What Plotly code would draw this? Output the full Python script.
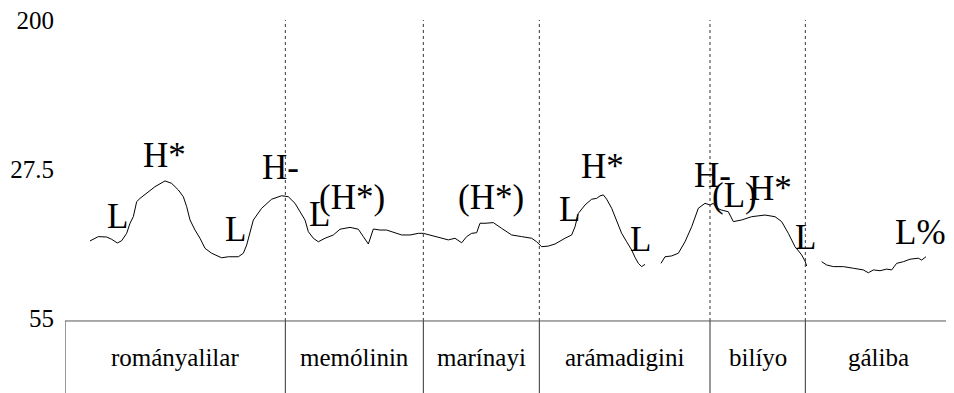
import plotly.graph_objects as go

# F0 contour (time in s, F0 in Hz); None marks unvoiced gaps
time_s = [0.075, 0.100, 0.125, 0.140, 0.157, 0.170, 0.185, 0.195, 0.205, 0.215, 0.225, 0.245, 0.270, 0.300,
          0.320, 0.340, 0.355, 0.365, 0.375, 0.390, 0.405, 0.420, 0.440, 0.470, 0.490, 0.520, 0.535, 0.545,
          0.555, 0.565, 0.590, 0.620, 0.650, 0.670, 0.690, 0.705, 0.720, 0.730, 0.745, 0.760, 0.780, 0.805,
          0.825, 0.855, 0.880, 0.895, 0.910, 0.925, 0.945, 0.965, 0.990, 1.010, 1.035, 1.060, 1.075, 1.100,
          1.130, 1.150, 1.170, 1.190, 1.205, 1.220, 1.235, 1.245, 1.260, 1.285, 1.310, 1.340, 1.370, 1.400,
          1.415, 1.430, 1.450, 1.470, 1.500, 1.520, 1.530, 1.540, 1.560, 1.580, 1.595, 1.605, 1.615, 1.625,
          1.640, 1.655, 1.670, 1.685, 1.700, 1.710, 1.720, 1.730, 1.740, 1.764,
          1.788, 1.800, 1.820, 1.840, 1.860, 1.880, 1.900, 1.920, 1.935, 1.945, 1.955, 1.970, 1.990, 2.005,
          2.030, 2.060, 2.100, 2.130, 2.150, 2.170, 2.190, 2.210, 2.220, 2.225, 2.248,
          2.270, 2.285, 2.305, 2.335, 2.365, 2.395, 2.410, 2.425, 2.445, 2.465, 2.480, 2.495, 2.515, 2.535,
          2.560, 2.570, 2.583]
f0_hz = [92.5, 94.6, 94.4, 93.3, 91.5, 92.6, 96.2, 101.1, 104.3, 111.6, 113.2, 115.7, 118.9, 121.7,
         120.5, 117.3, 114.0, 109.2, 102.7, 97.8, 93.8, 88.9, 86.5, 84.3, 84.8, 84.8, 86.5, 90.5,
         97.0, 102.7, 108.4, 112.8, 114.5, 114.0, 110.8, 106.7, 102.7, 97.0, 93.8, 92.1, 93.8, 95.4,
         98.2, 99.1, 98.2, 94.6, 91.0, 98.3, 97.8, 97.8, 96.5, 95.4, 95.4, 96.2, 96.2, 95.2,
         93.8, 93.0, 93.8, 91.6, 94.6, 96.2, 96.5, 101.1, 101.1, 101.4, 98.6, 95.4, 94.6, 93.8,
         92.1, 89.7, 90.0, 91.0, 93.8, 95.4, 99.4, 105.9, 110.0, 112.8, 113.2, 114.4, 114.9, 112.8,
         108.4, 102.7, 96.2, 92.1, 88.1, 84.5, 81.6, 80.0, 81.1, None,
         81.6, 84.8, 85.2, 86.5, 92.1, 99.4, 108.4, 110.8, 110.0, 110.8, 108.5, 107.5, 106.7, 101.9,
         102.7, 104.3, 105.1, 104.3, 101.9, 96.2, 89.7, 85.7, 82.7, 80.3, None,
         82.4, 80.8, 80.0, 80.0, 79.2, 78.4, 77.0, 78.4, 78.0, 78.8, 78.4, 81.6, 82.4, 83.6,
         84.1, 83.2, 84.8]

# Word tier
words = ["rományalilar", "memólinin", "marínayi", "arámadigini", "bilíyo", "gáliba"]
word_bounds = [0.0, 0.661, 1.075, 1.423, 1.935, 2.221, 2.660]

# Tone labels
tone_labels = ["L", "H*", "L", "H-", "L", "(H*)", "(H*)", "L", "H*", "L", "H-", "(L)", "H*", "L", "L%"]
tone_time = [0.156, 0.297, 0.510, 0.645, 0.762, 0.861, 1.278, 1.512, 1.611, 1.725, 1.941, 2.007, 2.115, 2.220, 2.565]
tone_f0 = [104.6, 134.3, 98.3, 128.0, 105.6, 113.4, 113.4, 108.0, 128.5, 93.4, 124.1, 114.8, 117.8, 94.4, 96.4]

# Y ticks
y_tickvals = [55, 127.5, 200]
y_ticktext = ["55", "27.5", "200"]

FONT = "Liberation Serif, Times New Roman, serif"

fig = go.Figure()
fig.add_trace(go.Scatter(x=time_s, y=f0_hz, mode="lines", connectgaps=False,
                         line=dict(color="black", width=1), hoverinfo="skip", showlegend=False))

shapes = []
TAB_TOP = -0.01
TAB_BOT = -0.40
# internal boundaries: dotted above, solid in table
for b in word_bounds[1:-1]:
    shapes.append(dict(type="line", xref="x", yref="paper", x0=b, x1=b, y0=TAB_TOP, y1=1.0,
                       line=dict(color="#333333", width=1, dash="dot")))
for b in word_bounds:
    shapes.append(dict(type="line", xref="x", yref="paper", x0=b, x1=b, y0=TAB_BOT, y1=TAB_TOP,
                       line=dict(color="#333333", width=1)))
shapes.append(dict(type="line", xref="x", yref="paper", x0=word_bounds[0], x1=word_bounds[-1],
                   y0=TAB_TOP, y1=TAB_TOP, line=dict(color="#555555", width=1)))

annotations = []
for i, w in enumerate(words):
    annotations.append(dict(x=(word_bounds[i] + word_bounds[i + 1]) / 2, y=-0.131, xref="x", yref="paper",
                            text=w, showarrow=False, xanchor="center", yanchor="middle",
                            font=dict(family=FONT, size=25, color="black")))
for t, x, y in zip(tone_labels, tone_time, tone_f0):
    annotations.append(dict(x=x, y=y, xref="x", yref="y", text=t, showarrow=False,
                            xanchor="center", yanchor="middle",
                            font=dict(family=FONT, size=35, color="black")))

fig.update_layout(
    width=954, height=393,
    margin=dict(l=57, r=10, t=12, b=83, autoexpand=False),
    plot_bgcolor="white", paper_bgcolor="white",
    shapes=shapes, annotations=annotations,
    xaxis=dict(range=[0, 2.661], showgrid=False, zeroline=False, showline=False,
               showticklabels=False, ticks="", automargin=False),
    yaxis=dict(range=[55, 200], showgrid=False, zeroline=False, showline=False,
               tickvals=y_tickvals, ticktext=y_ticktext, ticks="", ticklabelstandoff=10,
               automargin=False, ticklabeloverflow="allow",
               tickfont=dict(family=FONT, size=25, color="black")),
    showlegend=False,
)
fig.write_html("out.html")
